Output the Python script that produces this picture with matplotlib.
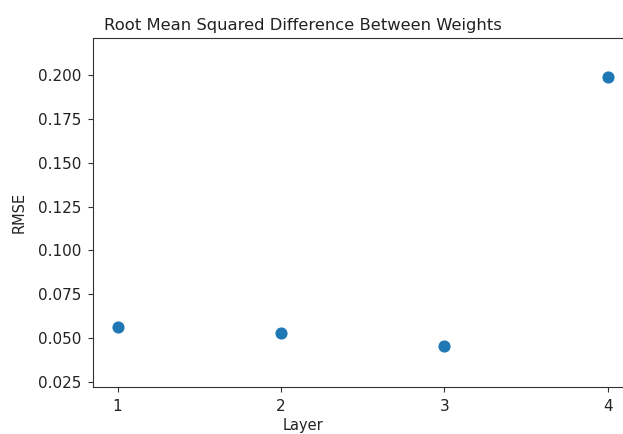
import matplotlib
matplotlib.use("Agg")
import matplotlib.pyplot as plt

# RMSE per layer
layers = [1, 2, 3, 4]
rmse = [0.0563, 0.0529, 0.0455, 0.1989]
xticks = [1, 2, 3, 4]
yticks = [0.025, 0.050, 0.075, 0.100, 0.125, 0.150, 0.175, 0.200]

fig = plt.figure(figsize=(6.23, 4.34), dpi=100)
# axes runs past the right edge of the picture, like the cropped original
ax = fig.add_axes([93 / 623, 1 - 387 / 434, 539.5 / 623, 349 / 434])

ax.scatter(layers, rmse, color="#1f77b4", s=60)
ax.set_xlim(0.85, 4.15)
ax.set_ylim(0.0222, 0.2211)
ax.set_xticks(xticks)
ax.set_yticks(yticks)
ax.set_yticklabels(["%.3f" % v for v in yticks])
ax.tick_params(labelsize=11, pad=5, color="#333333", labelcolor="#222222")
for s in ax.spines.values():
    s.set_color("#333333")

ax.set_title("Root Mean Squared Difference Between Weights", x=0.389, fontsize=11.8, pad=6, color="#222222")
ax.set_xlabel("Layer", x=0.389, fontsize=10.5, labelpad=3, color="#222222")
ax.set_ylabel("RMSE", fontsize=10.5, labelpad=8, color="#222222")

fig.savefig("out.png", dpi=100)
